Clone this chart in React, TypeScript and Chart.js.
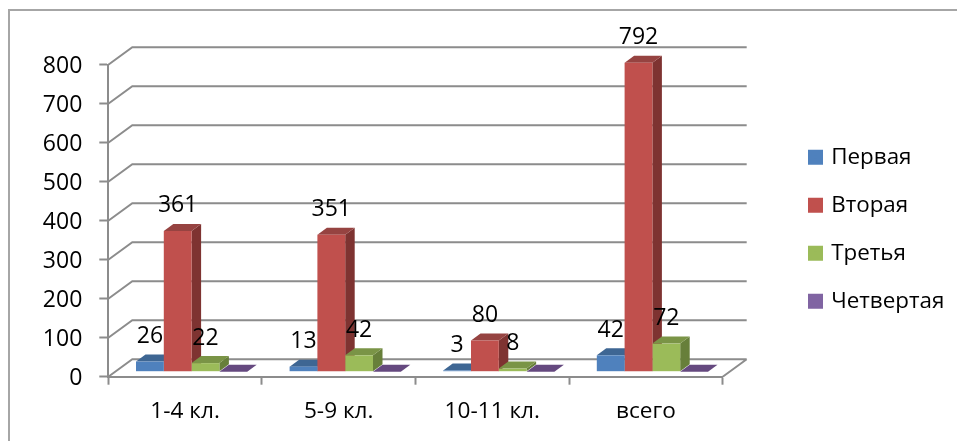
import React, { useEffect, useRef } from "react";
import { Chart, registerables } from "chart.js";

Chart.register(...registerables);

const categories = ["1-4 кл.", "5-9 кл.", "10-11 кл.", "всего"];
const first = [26, 13, 3, 42];
const second = [361, 351, 80, 792];
const third = [22, 42, 8, 72];
const fourth = [0, 0, 0, 0];
const seriesNames = ["Первая", "Вторая", "Третья", "Четвертая"];
const seriesColors = ["#4F81BD", "#C0504D", "#9BBB59", "#8064A2"];
const topColors = ["#3E6693", "#964341", "#7A9446", "#65497F"];
const sideColors = ["#345A88", "#7E3331", "#677F3A", "#553D73"];

const FONT = "'Open Sans', sans-serif";
const GRID = "#8C8C8C";
const WALL_DX = 24;
const WALL_DY = -17.5;
const BAR_DX = 6.5;
const BAR_DY = -5;
const DEPTH_DX = 9.5;
const DEPTH_DY = -7;

const poly = (ctx: CanvasRenderingContext2D, pts: number[][], color: string) => {
  ctx.fillStyle = color;
  ctx.beginPath();
  pts.forEach(([x, y], i) => (i ? ctx.lineTo(x, y) : ctx.moveTo(x, y)));
  ctx.closePath();
  ctx.fill();
};

const scene3d = {
  id: "scene3d",
  afterLayout(chart: any) {
    const legend = chart.legend;
    const pad = legend.options.labels.padding;
    const w = legend.width;
    const h = legend.height;
    legend.left = 811 - pad;
    legend.right = legend.left + w;
    legend.top = 146 - pad;
    legend.bottom = legend.top + h;
  },
  beforeDraw(chart: any) {
    const { ctx, width, height } = chart;
    ctx.save();
    ctx.strokeStyle = "#A6A6A6";
    ctx.lineWidth = 2;
    ctx.beginPath();
    ctx.moveTo(9, height);
    ctx.lineTo(9, 10);
    ctx.lineTo(width, 10);
    ctx.stroke();
    ctx.restore();
  },
  beforeDatasetsDraw(chart: any) {
    const { ctx, chartArea, scales } = chart;
    const { left, right } = chartArea;
    ctx.save();
    ctx.strokeStyle = GRID;
    ctx.lineWidth = 2;
    ctx.beginPath();
    scales.y.ticks.forEach((t: any) => {
      const y = scales.y.getPixelForValue(t.value);
      ctx.moveTo(left, y);
      ctx.lineTo(left + WALL_DX, y + WALL_DY);
      ctx.lineTo(right + WALL_DX, y + WALL_DY);
    });
    const y0 = scales.y.getPixelForValue(0);
    ctx.moveTo(right, y0);
    ctx.lineTo(right + WALL_DX, y0 + WALL_DY);
    ctx.stroke();
    chart.getSortedVisibleDatasetMetas().forEach((meta: any) => {
      meta.data.forEach((bar: any) => {
        const x0 = bar.x - bar.width / 2 + BAR_DX;
        const x1 = bar.x + bar.width / 2 + BAR_DX;
        const top = bar.y + BAR_DY;
        const base = bar.base + BAR_DY;
        poly(ctx, [[x1, top], [x1 + DEPTH_DX, top + DEPTH_DY], [x1 + DEPTH_DX, base + DEPTH_DY], [x1, base]], sideColors[meta.index]);
        poly(ctx, [[x0, top], [x0 + DEPTH_DX, top + DEPTH_DY], [x1 + DEPTH_DX, top + DEPTH_DY], [x1, top]], topColors[meta.index]);
      });
    });
    ctx.restore();
  },
  beforeDatasetDraw(chart: any) {
    chart.ctx.save();
    chart.ctx.translate(BAR_DX, BAR_DY);
  },
  afterDatasetDraw(chart: any) {
    chart.ctx.restore();
  },
  afterDatasetsDraw(chart: any) {
    const { ctx } = chart;
    ctx.save();
    ctx.fillStyle = "#000";
    ctx.font = `23px ${FONT}`;
    ctx.textAlign = "center";
    ctx.textBaseline = "middle";
    chart.getSortedVisibleDatasetMetas().forEach((meta: any) => {
      const values = chart.data.datasets[meta.index].data;
      meta.data.forEach((bar: any, i: number) => {
        if (values[i] > 0) ctx.fillText(String(values[i]), bar.x + BAR_DX, bar.y + BAR_DY - 25);
      });
    });
    ctx.restore();
  },
};

export default function App() {
  const ref = useRef<HTMLCanvasElement>(null);
  useEffect(() => {
    const seriesValues = [first, second, third, fourth];
    const chart = new Chart(ref.current as HTMLCanvasElement, {
      type: "bar",
      plugins: [scene3d],
      data: {
        labels: categories,
        datasets: seriesNames.map((label, i) => ({
          label,
          data: seriesValues[i],
          backgroundColor: seriesColors[i],
          borderWidth: 0,
          clip: false,
          barPercentage: 1,
          categoryPercentage: 0.724,
        })),
      } as any,
      options: {
        responsive: false,
        animation: false,
        devicePixelRatio: 1,
        layout: { padding: { left: 8, right: 234.3, top: 64.7, bottom: 10 } },
        plugins: {
          tooltip: { enabled: false },
          legend: {
            position: "chartArea",
            align: "start",
            labels: {
              boxWidth: 9,
              boxHeight: 9,
              padding: 25.6,
              color: "#000",
              font: { family: FONT, size: 22.4 },
              generateLabels: (chart: any) =>
                chart.data.datasets.map((d: any, i: number) => ({
                  text: d.label,
                  fillStyle: d.backgroundColor,
                  strokeStyle: d.backgroundColor,
                  lineWidth: 6,
                  fontColor: "#000",
                  datasetIndex: i,
                })),
            },
          },
        },
        scales: {
          x: {
            grid: { drawOnChartArea: false, tickLength: 8, tickColor: GRID, tickWidth: 2, offset: true },
            border: { color: GRID, width: 2 },
            ticks: { color: "#000", font: { family: FONT, size: 22.6 }, padding: 13, maxRotation: 0 },
            afterFit: (s: any) => {
              s.height = 54.3;
              s.paddingLeft = 0;
              s.paddingRight = 0;
            },
          },
          y: {
            min: 0,
            max: 800,
            grid: { drawOnChartArea: false, tickLength: 9, tickColor: GRID, tickWidth: 2 },
            border: { color: GRID, width: 2 },
            ticks: { stepSize: 100, color: "#000", font: { family: FONT, size: 23 }, padding: 17, labelOffset: 2 },
            afterFit: (s: any) => {
              s.width = 100.3;
              s.paddingTop = 0;
              s.paddingBottom = 0;
            },
          },
        },
      } as any,
    });
    return () => chart.destroy();
  }, []);
  return (
    <canvas ref={ref} width={957} height={441} style={{ position: "absolute", left: 0, top: 0 }} />
  );
}
